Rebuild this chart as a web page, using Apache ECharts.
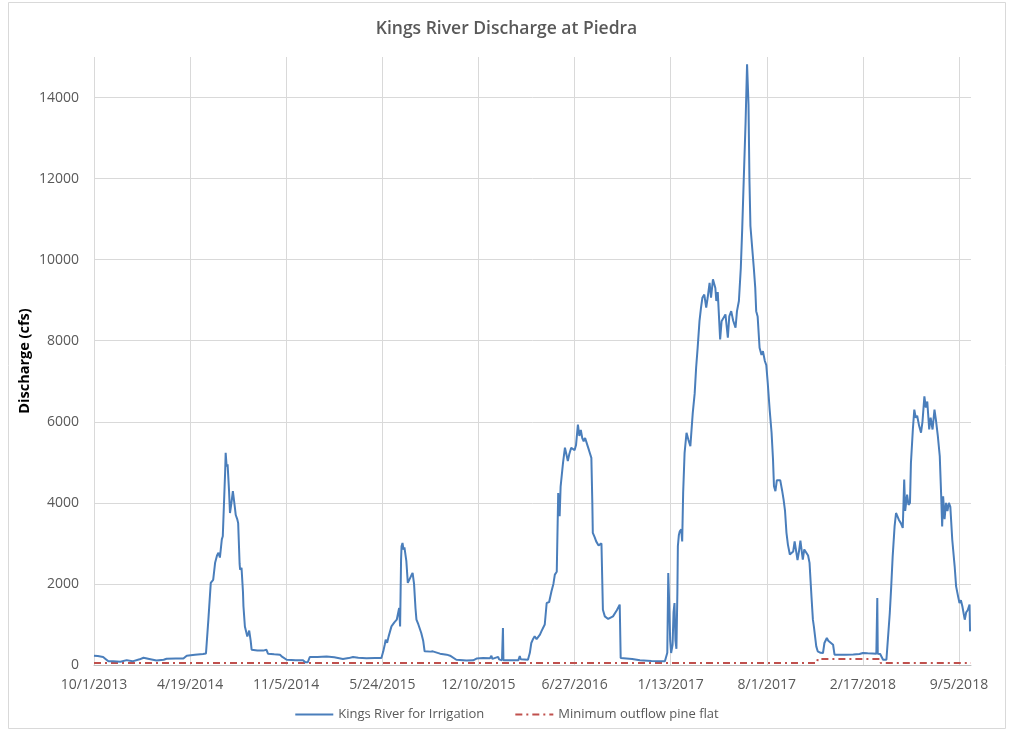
<!DOCTYPE html>
<html>
<head>
<meta charset="utf-8">
<script src="https://cdn.jsdelivr.net/npm/echarts@6/dist/echarts.min.js"></script>
<style>
  html, body { margin: 0; padding: 0; background: #fff; }
  #chart { width: 1013px; height: 733px; }
</style>
</head>
<body>
<div id="chart"></div>
<script>
// Days are counted from the first day of the record, 10/1/2013.
const startDate = Date.UTC(2013, 9, 1);
const lastDay = 1825;      // 9/30/2018
const dayStep = 200;       // spacing of the date ticks

// Kings River flow released for irrigation (cfs)
const flowDays = [
  0, 8, 19, 24, 30, 40, 55, 68, 80, 95, 103, 115, 130, 145, 151, 170, 186, 193, 210, 227,
  233, 238, 243, 248, 252, 256, 259, 262, 266, 268, 271, 273, 274, 276, 278, 281, 283, 286, 289, 291,
  293, 295, 298, 300, 303, 304, 307, 310, 311, 314, 317, 319, 323, 326, 328, 340, 352, 359, 362, 375,
  387, 392, 401, 420, 435, 440, 445, 449, 465, 484, 500, 518, 530, 539, 550, 567, 585, 598, 602, 605,
  607, 610, 613, 619, 625, 630, 635, 637, 639, 640, 642, 644, 646, 650, 653, 656, 660, 663, 666, 669,
  671, 675, 681, 685, 688, 700, 705, 715, 720, 734, 741, 754, 758, 775, 789, 796, 810, 824, 827, 829,
  841, 843, 849, 851, 852, 870, 883, 886, 888, 903, 907, 910, 914, 917, 921, 925, 928, 931, 935, 938,
  942, 947, 952, 956, 959, 963, 966, 968, 969, 971, 976, 980, 983, 986, 989, 993, 997, 1000, 1003, 1007,
  1010, 1013, 1016, 1019, 1022, 1026, 1030, 1035, 1037, 1038, 1042, 1045, 1050, 1056, 1059, 1063, 1070, 1080, 1088, 1094,
  1096, 1120, 1136, 1160, 1188, 1193, 1195, 1197, 1199, 1201, 1204, 1206, 1208, 1210, 1212, 1214, 1215, 1217, 1219, 1222,
  1224, 1226, 1229, 1233, 1237, 1241, 1246, 1250, 1253, 1256, 1260, 1263, 1266, 1270, 1274, 1277, 1281, 1284, 1288, 1291,
  1293, 1295, 1298, 1303, 1306, 1310, 1314, 1319, 1322, 1326, 1330, 1335, 1338, 1342, 1346, 1349, 1352, 1356, 1359, 1362,
  1364, 1366, 1370, 1373, 1376, 1378, 1381, 1385, 1389, 1392, 1396, 1399, 1402, 1406, 1410, 1413, 1415, 1418, 1421, 1425,
  1428, 1432, 1435, 1438, 1441, 1444, 1448, 1451, 1455, 1458, 1461, 1464, 1467, 1470, 1472, 1475, 1478, 1482, 1486, 1489,
  1493, 1496, 1498, 1500, 1503, 1506, 1512, 1517, 1520, 1525, 1528, 1532, 1538, 1541, 1565, 1580, 1593, 1600, 1610, 1620,
  1628, 1630, 1631, 1636, 1642, 1649, 1652, 1656, 1659, 1662, 1666, 1669, 1672, 1675, 1679, 1683, 1686, 1688, 1692, 1695,
  1698, 1700, 1704, 1707, 1710, 1713, 1717, 1721, 1724, 1728, 1731, 1734, 1738, 1741, 1745, 1749, 1752, 1756, 1760, 1763,
  1765, 1767, 1770, 1773, 1776, 1779, 1782, 1786, 1791, 1794, 1798, 1801, 1804, 1807, 1812, 1815, 1818, 1822, 1823
];
const flowCfs = [
  230, 220, 200, 150, 90, 95, 80, 120, 90, 140, 180, 150, 110, 130, 155, 160, 158, 230, 250, 270,
  285, 1120, 2025, 2100, 2520, 2700, 2770, 2650, 3100, 3175, 3200, 4800, 5235, 4900, 4950, 4300, 3750, 4000, 4290, 4250,
  3900, 3700, 3600, 3500, 2500, 2350, 2400, 1800, 1450, 950, 800, 705, 850, 600, 378, 360, 355, 375, 280, 265,
  255, 200, 130, 120, 115, 65, 70, 197, 200, 210, 190, 148, 170, 197, 180, 165, 170, 173, 337, 500,
  625, 550, 700, 953, 1050, 1118, 1407, 953, 2600, 2928, 3010, 2850, 2900, 2560, 2025, 2100, 2200, 2270, 2000, 1400,
  1118, 1000, 790, 600, 337, 330, 337, 300, 280, 255, 230, 130, 115, 110, 115, 160, 170, 165, 230, 150,
  200, 140, 115, 913, 115, 120, 115, 220, 140, 130, 300, 543, 650, 708, 640, 680, 750, 830, 820, 1000,
  1530, 1550, 1818, 2000, 2230, 2300, 4245, 3800, 3670, 4400, 4985, 5360, 5200, 5030, 5200, 5360, 5360, 5300, 5420, 5933,
  5650, 5800, 5600, 5520, 5600, 5450, 5300, 5110, 4000, 3260, 3150, 3050, 2950, 3000, 1365, 1200, 1135, 1200, 1350, 1490,
  173, 150, 115, 100, 90, 300, 2270, 1500, 600, 296, 500, 1300, 1530, 600, 400, 1800, 2930, 3200, 3300, 3350,
  3050, 4245, 5235, 5730, 5550, 5400, 6220, 6700, 7333, 7800, 8485, 8800, 9060, 9140, 8815, 9060, 9430, 9060, 9514, 9500,
  9300, 8980, 9200, 8032, 8480, 8500, 8650, 8074, 8600, 8730, 8500, 8320, 8730, 8980, 9800, 10790, 11940, 13420, 14820, 13830,
  11940, 10830, 10800, 9800, 9310, 8730, 8600, 7827, 7650, 7743, 7500, 7400, 6963, 6300, 5730, 5070, 4410, 4290, 4560, 4600,
  4560, 4300, 4080, 3800, 3260, 2970, 2725, 2720, 2800, 3050, 3090, 2590, 2800, 3070, 3070, 2600, 2850, 2805, 2700, 2520,
  1695, 1118, 955, 1000, 460, 337, 300, 296, 543, 667, 600, 620, 500, 255, 255, 260, 270, 296, 290, 285,
  280, 1655, 280, 270, 130, 130, 625, 1284, 1940, 2680, 3420, 3750, 3790, 3580, 3500, 3380, 4575, 3800, 4205, 3950,
  4000, 4985, 5810, 6300, 6100, 6150, 5900, 5730, 6000, 6630, 6350, 6500, 5810, 6100, 5810, 6300, 6050, 5645, 5150, 4160,
  3420, 4160, 3600, 4000, 3800, 4000, 3900, 3090, 2435, 1940, 1700, 1530, 1600, 1450, 1118, 1300, 1350, 1490, 830
];

// Minimum required outflow below Pine Flat (cfs)
const minDays = [0, 1505, 1506, 1636, 1637, 1825];
const minCfs = [50, 50, 150, 150, 50, 50];

const seriesNames = ['Kings River for Irrigation', 'Minimum outflow pine flat'];
const titleText = 'Kings River Discharge at Piedra';
const yAxisTitle = 'Discharge (cfs)';

function dayLabel(d) {
  const dt = new Date(startDate + d * 86400000);
  return (dt.getUTCMonth() + 1) + '/' + dt.getUTCDate() + '/' + dt.getUTCFullYear();
}

const font = 'Open Sans';
const textGrey = '#595959';
const gridGrey = '#d9d9d9';

const chart = echarts.init(document.getElementById('chart'), null, { renderer: 'canvas' });
chart.setOption({
  animation: false,
  backgroundColor: '#ffffff',
  textStyle: { fontFamily: font },
  graphic: [{
    type: 'rect',
    shape: { x: 8.5, y: 2.5, width: 997, height: 726 },
    style: { fill: 'none', stroke: gridGrey, lineWidth: 1 },
    silent: true
  }],
  title: {
    text: titleText,
    left: 'center',
    top: 15,
    textStyle: { fontFamily: font, fontSize: 17.5, fontWeight: 600, color: textGrey }
  },
  legend: {
    top: 703,
    left: 'center',
    itemWidth: 38,
    itemHeight: 10,
    itemGap: 30,
    itemStyle: { opacity: 0 },
    textStyle: { fontFamily: font, fontSize: 13, color: textGrey },
    data: seriesNames
  },
  grid: { left: 94, right: 42, top: 57, bottom: 68, containLabel: false },
  xAxis: {
    type: 'value',
    min: 0,
    max: lastDay,
    interval: dayStep,
    axisLine: { show: true, lineStyle: { color: '#bfbfbf', width: 1 } },
    axisTick: { show: false },
    axisLabel: {
      formatter: dayLabel,
      showMaxLabel: false,
      margin: 13,
      fontFamily: font, fontSize: 14, color: textGrey
    },
    splitLine: { show: true, showMinLine: true, showMaxLine: false, lineStyle: { color: gridGrey, width: 1 } }
  },
  yAxis: {
    type: 'value',
    min: 0,
    max: 15000,
    interval: 2000,
    name: yAxisTitle,
    nameLocation: 'middle',
    nameGap: 62,
    nameMoveOverlap: false,
    nameTextStyle: { fontFamily: font, fontSize: 14.5, fontWeight: 'bold', color: '#000000' },
    axisLine: { show: false },
    axisTick: { show: false },
    axisLabel: {
      formatter: (v) => String(v),
      showMaxLabel: false, margin: 15, fontFamily: font, fontSize: 14, color: textGrey
    },
    splitLine: { show: true, showMaxLine: false, lineStyle: { color: gridGrey, width: 1 } }
  },
  series: [
    {
      name: seriesNames[0],
      type: 'line',
      showSymbol: false,
      symbol: 'none',
      sampling: null,
      data: flowDays.map((d, i) => [d, flowCfs[i]]),
      lineStyle: { color: '#4a7ebb', width: 2 },
      itemStyle: { color: '#4a7ebb' },
      z: 3
    },
    {
      name: seriesNames[1],
      type: 'line',
      showSymbol: false,
      symbol: 'none',
      data: minDays.map((d, i) => [d, minCfs[i]]),
      lineStyle: { color: '#c0504d', width: 2, type: [7, 4, 2, 4] },
      itemStyle: { color: '#c0504d' },
      z: 2
    }
  ]
});
</script>
</body>
</html>
